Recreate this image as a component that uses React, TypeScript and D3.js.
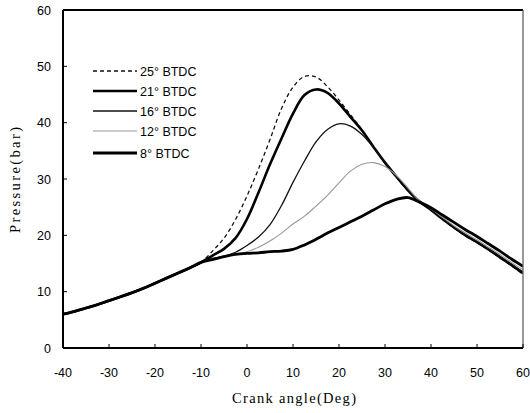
import React from "react";
import * as d3 from "d3";

const angles = d3.range(-40, 60.01, 2.5);

const common = [6.0, 6.5, 7.1, 7.7, 8.4, 9.1, 9.8, 10.6, 11.5, 12.4, 13.3, 14.2, 15.2];

const p25 = [...common,
  17.2, 19.5, 22.8, 27.0, 31.8, 37.0, 42.5, 46.3, 48.2, 48.1, 46.4, 44.0, 41.4, 38.7,
  35.6, 32.8, 30.3, 27.9, 26.0, 24.5, 22.8, 21.3, 19.9, 18.7, 17.4, 16.0, 14.6, 13.1];
const p21 = [...common,
  16.4, 17.6, 19.5, 22.9, 27.6, 32.6, 37.2, 41.6, 44.9, 45.9, 45.3, 43.4, 41.0, 38.6,
  35.7, 32.9, 30.4, 28.0, 26.0, 24.5, 22.9, 21.4, 20.0, 18.8, 17.5, 16.1, 14.7, 13.3];
const p16 = [...common,
  15.9, 16.3, 17.0, 18.2, 19.7, 21.9, 25.3, 29.4, 33.2, 36.6, 38.8, 39.8, 39.4, 37.9,
  35.6, 33.0, 30.5, 28.1, 26.1, 24.6, 23.0, 21.5, 20.1, 18.9, 17.6, 16.3, 14.9, 13.5];
const p12 = [...common,
  15.8, 16.3, 16.7, 17.1, 17.9, 19.0, 20.4, 22.0, 23.4, 25.2, 27.1, 29.3, 31.4, 32.6,
  32.9, 32.2, 30.6, 28.4, 26.1, 24.7, 23.2, 21.7, 20.4, 19.2, 17.9, 16.6, 15.2, 13.9];
const p8 = [...common,
  15.7, 16.2, 16.6, 16.8, 16.9, 17.1, 17.2, 17.5, 18.3, 19.3, 20.4, 21.4, 22.4, 23.4,
  24.5, 25.6, 26.4, 26.7, 25.9, 24.9, 23.6, 22.3, 21.0, 19.8, 18.5, 17.2, 15.8, 14.5];

const seriesLabels = ["25° BTDC", "21° BTDC", "16° BTDC", "12° BTDC", "8° BTDC"];
const seriesValues = [p25, p21, p16, p12, p8];
const xTicks = [-40, -30, -20, -10, 0, 10, 20, 30, 40, 50, 60];
const yTicks = [0, 10, 20, 30, 40, 50, 60];

const styles = [
  { stroke: "#111", width: 1.3, dash: "4,3" },
  { stroke: "#000", width: 2.6, dash: "" },
  { stroke: "#111", width: 1.3, dash: "" },
  { stroke: "#999", width: 1.1, dash: "" },
  { stroke: "#000", width: 2.8, dash: "" },
];

export default function App() {
  const W = 530, H = 413;
  const left = 63, right = 523, top = 10, bottom = 348;
  const x = d3.scaleLinear().domain([-40, 60]).range([left, right]);
  const y = d3.scaleLinear().domain([0, 60]).range([bottom, top]);
  const line = d3
    .line<number>()
    .x((_, i) => x(angles[i]))
    .y((d) => y(d))
    .curve(d3.curveCatmullRom.alpha(0.5));

  const sans = "Liberation Sans, Arial, sans-serif";
  const serif = "Liberation Serif, Times New Roman, serif";

  return (
    <svg width={W} height={H} style={{ position: "absolute", left: 0, top: 0, background: "#fff" }}>
      <rect x={0} y={0} width={W} height={H} fill="#fff" />
      <defs>
        <clipPath id="plot">
          <rect x={left} y={top} width={right - left} height={bottom - top} />
        </clipPath>
      </defs>
      <g clipPath="url(#plot)">
        {seriesValues.map((vals, i) => (
          <path
            key={i}
            d={line(vals) || ""}
            fill="none"
            stroke={styles[i].stroke}
            strokeWidth={styles[i].width}
            strokeDasharray={styles[i].dash || undefined}
            strokeLinejoin="round"
          />
        ))}
      </g>
      <line x1={left} x2={right} y1={top} y2={top} stroke="#000" strokeWidth={2} />
      <line x1={right} x2={right} y1={top} y2={bottom} stroke="#555" strokeWidth={1.2} />
      <line x1={left} x2={left} y1={top} y2={bottom} stroke="#000" strokeWidth={2} />
      <line x1={left} x2={right} y1={bottom} y2={bottom} stroke="#000" strokeWidth={2} />
      {xTicks.map((t) => (
        <g key={"x" + t}>
          <line x1={x(t)} x2={x(t)} y1={bottom} y2={bottom - 4} stroke="#000" strokeWidth={1} />
          <text x={x(t)} y={377} textAnchor="middle" fontFamily={sans} fontSize={12.5} fill="#000">
            {t}
          </text>
        </g>
      ))}
      {yTicks.map((t) => (
        <g key={"y" + t}>
          <line x1={left} x2={left + 4} y1={y(t)} y2={y(t)} stroke="#000" strokeWidth={1} />
          <text x={51} y={y(t) + 4.5} textAnchor="end" fontFamily={sans} fontSize={12.5} fill="#000">
            {t}
          </text>
        </g>
      ))}
      <text
        transform={`translate(20,180) rotate(-90)`}
        textAnchor="middle"
        fontFamily={serif}
        fontSize={14.5}
        textLength={106}
        lengthAdjust="spacing"
        fill="#000"
      >
        Pressure(bar)
      </text>
      <text
        x={294}
        y={403}
        textAnchor="middle"
        fontFamily={serif}
        fontSize={14.5}
        textLength={124}
        lengthAdjust="spacing"
        fill="#000"
      >
        Crank angle(Deg)
      </text>
      {seriesLabels.map((lab, i) => {
        const ly = [71, 91, 111, 131, 153][i];
        return (
          <g key={lab}>
            <line
              x1={93}
              x2={137}
              y1={ly}
              y2={ly}
              stroke={styles[i].stroke}
              strokeWidth={styles[i].width}
              strokeDasharray={styles[i].dash || undefined}
            />
            <text x={140} y={ly + 4.5} fontFamily={sans} fontSize={12.5} fill="#000">
              {lab}
            </text>
          </g>
        );
      })}
    </svg>
  );
}
